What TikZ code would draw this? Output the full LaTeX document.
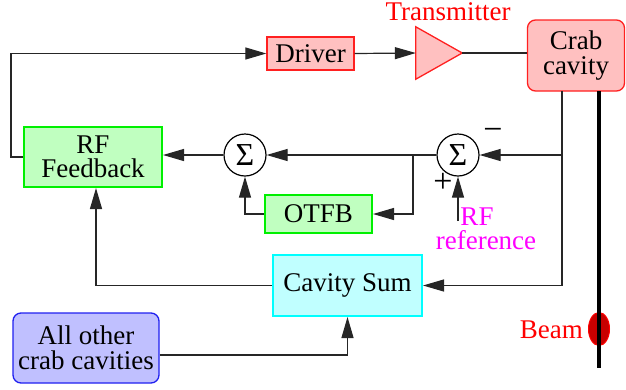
\documentclass[tikz,border=0pt]{standalone}
\usepackage{fontspec}
\setmainfont{Liberation Serif}
\usetikzlibrary{arrows.meta,calc,shapes.geometric}
\definecolor{pinkfill}{HTML}{FFC0C0}
\definecolor{redline}{HTML}{FF2020}
\definecolor{greenfill}{HTML}{C0FFC0}
\definecolor{greenline}{HTML}{00F000}
\definecolor{cyanfill}{HTML}{C0FFFF}
\definecolor{cyanline}{HTML}{00FFFF}
\definecolor{bluefill}{HTML}{C0C0FF}
\definecolor{blueline}{HTML}{2020F0}
\definecolor{beamred}{HTML}{C80000}
\definecolor{magtext}{HTML}{FF00FF}
\begin{document}
\begin{tikzpicture}[x=1pt,y=-1pt,
  txt/.style={font=\fontsize{27}{24.5}\selectfont, inner sep=0pt, align=center},
  signtxt/.style={font=\fontsize{34}{34}\selectfont, inner sep=0pt},
  redbox/.style={txt, draw=redline, fill=pinkfill, line width=1.3pt},
  greenbox/.style={txt, draw=greenline, fill=greenfill, line width=2pt},
  cyanbox/.style={txt, draw=cyanline, fill=cyanfill, line width=2pt},
  bluebox/.style={txt, draw=blueline, fill=bluefill, line width=1.3pt, rounded corners=8pt},
  sumnode/.style={circle, draw, line width=1.2pt, minimum size=42pt, inner sep=0pt, font=\fontsize{32}{32}\selectfont},
  wire/.style={draw=black!85, line width=1.2pt},
  arr/.style={wire, -{Triangle[length=21pt,width=12pt]}},
]
\useasboundingbox (0,0) rectangle (626,389);

% boxes
\node[redbox, minimum width=87pt, minimum height=33pt] (drv) at (310.5,53.5) {Driver};
\node[txt, minimum width=46pt, minimum height=52pt] (tx) at (439,53) {};
\draw[draw=redline, fill=pinkfill, line width=1.3pt, line join=miter]
  (tx.north west) -- (tx.east) -- (tx.south west) -- cycle;
\node[txt, text=red, anchor=base] (txlab) at (448,20) {Transmitter};
\node[redbox, rounded corners=8pt, minimum width=97pt, minimum height=71pt] (crab) at (576,55.5) {Crab\\cavity};

\node[greenbox, minimum width=138pt, minimum height=60pt] (rff) at (93,157) {RF\\Feedback};
\node[sumnode] (s1) at (245,155) {Σ};
\node[sumnode] (s2) at (458,155) {Σ};
\node[signtxt] (minus) at (493,134) {−};
\node[signtxt] (plus) at (443,183) {+};
\node[greenbox, minimum width=107pt, minimum height=38pt] (otfb) at (318.5,214) {OTFB};
\node[txt, text=magtext] (rfref) at (486,229) {RF\hspace*{18pt}\\reference};
\node[cyanbox, minimum width=149pt, minimum height=61pt] (cs) at (347.5,285.5) {Cavity Sum};
\node[bluebox, minimum width=146pt, minimum height=70pt] (aoc) at (86,348) {All other\\crab cavities};

% beam
\node[ellipse, draw=red, fill=beamred, minimum width=21pt, minimum height=33pt, inner sep=0pt, line width=1pt] (bunch) at (599,329) {};
\coordinate (beamtop) at (599,91);
\coordinate (beambot) at (599,368);
\draw[line width=4pt] (beamtop) -- (beambot);
\node[txt, text=red, anchor=base east] (beamlab) at (583,338) {Beam};

% connectors
\coordinate (lft) at (11,157);
\draw[arr] (rff.west) -- (lft) |- (drv.west);
\draw[arr] (drv.east) -- (tx.west);
\draw[wire] (tx.east) -- (tx.east -| crab.west);

\coordinate (tapTop) at (562,91);
\coordinate (tapS) at (562,155);
\draw[arr] (tapTop) |- (cs.east);
\draw[arr] (tapS) -- (s2.east);

\draw[arr] (s2.west) -- (s1.east);
\coordinate (br) at (413,155);
\draw[arr] (br) |- (otfb.east);
\draw[arr] (otfb.west) -| (s1.south);
\draw[arr] (s1.west) -- (s1.west -| rff.east);

\coordinate (rfsrc) at (458,221);
\draw[arr] (rfsrc) -- (s2.south);

\draw[arr] (cs.west) -| ([xshift=3pt]rff.south);
\draw[arr] ([yshift=-7pt]aoc.east) -| (cs.south);
\end{tikzpicture}
\end{document}
